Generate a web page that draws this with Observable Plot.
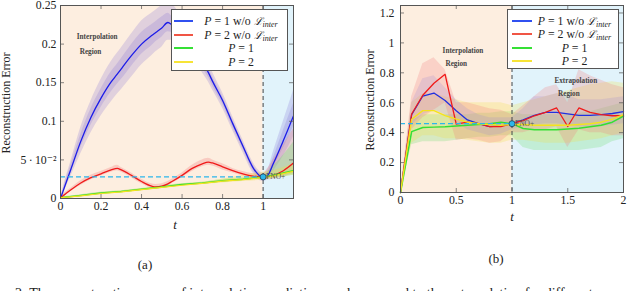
<!DOCTYPE html>
<html><head><meta charset="utf-8">
<script src="https://cdn.jsdelivr.net/npm/d3@7"></script>
<script src="https://cdn.jsdelivr.net/npm/@observablehq/plot@0.6"></script>
<style>
html,body{margin:0;padding:0;background:#fff;width:640px;height:291px;overflow:hidden;}
#root{position:relative;width:640px;height:291px;font-family:"Liberation Serif","DejaVu Serif",serif;color:#222;}
.ov{position:absolute;white-space:nowrap;}
.legend{position:absolute;border:1px solid #555;background:#fff;box-sizing:border-box;z-index:3;}
.entry{position:absolute;height:14px;margin-top:-7px;font-size:11.8px;line-height:14px;text-align:center;white-space:nowrap;}
.swatch{position:absolute;height:4px;margin-top:-2px;}
sub{font-size:8px;vertical-align:-2px;line-height:0;}
.scr{font-family:"DejaVu Serif",serif;font-style:italic;font-size:10.5px;}
</style></head>
<body><div id="root"></div>
<script>
// ---------------- Panel (a) data ----------------
const tA = [0,0.02,0.05,0.1,0.15,0.2,0.25,0.28,0.3,0.35,0.4,0.45,0.47,0.5,0.53,0.55,0.6,0.65,0.7,0.73,0.75,0.8,0.85,0.9,0.95,0.98,1.0,1.02,1.05,1.1,1.15];
const blueA = [0,0.015,0.037,0.074,0.105,0.13,0.151,0.161,0.168,0.185,0.2,0.211,0.215,0.221,0.228,0.225,0.214,0.198,0.176,0.163,0.152,0.127,0.097,0.068,0.04,0.03,0.027,0.029,0.045,0.075,0.107];
const blueOutLoA = [0,0.011,0.028,0.058,0.085,0.107,0.125,0.135,0.141,0.157,0.173,0.185,0.19,0.196,0.205,0.205,0.197,0.183,0.163,0.151,0.141,0.117,0.088,0.06,0.033,0.024,0.022,0.024,0.035,0.055,0.08];
const blueOutHiA = [0,0.021,0.047,0.092,0.126,0.154,0.177,0.188,0.195,0.213,0.23,0.24,0.244,0.25,0.255,0.252,0.235,0.215,0.19,0.176,0.164,0.137,0.106,0.076,0.047,0.036,0.033,0.036,0.06,0.1,0.14];
const blueInLoA = [0,0.013,0.032,0.066,0.095,0.118,0.138,0.148,0.154,0.171,0.187,0.198,0.203,0.209,0.216,0.215,0.205,0.19,0.169,0.157,0.146,0.122,0.092,0.064,0.036,0.027,0.024,0.026,0.04,0.065,0.093];
const blueInHiA = [0,0.018,0.042,0.083,0.116,0.142,0.164,0.174,0.181,0.199,0.215,0.225,0.229,0.235,0.24,0.236,0.223,0.206,0.183,0.169,0.158,0.132,0.102,0.072,0.044,0.033,0.03,0.032,0.052,0.088,0.123];
const redA = [0.001,0.005,0.011,0.02,0.027,0.032,0.037,0.039,0.037,0.03,0.022,0.016,0.015,0.016,0.019,0.022,0.03,0.039,0.045,0.047,0.046,0.041,0.036,0.032,0.029,0.028,0.027,0.028,0.03,0.036,0.046];
const redLoA = [0,0.003,0.009,0.017,0.024,0.029,0.034,0.036,0.034,0.027,0.019,0.013,0.012,0.013,0.016,0.019,0.027,0.035,0.041,0.043,0.042,0.037,0.033,0.029,0.026,0.025,0.024,0.024,0.025,0.028,0.032];
const redHiA = [0.002,0.007,0.013,0.023,0.03,0.035,0.04,0.043,0.04,0.033,0.025,0.019,0.018,0.019,0.022,0.025,0.033,0.043,0.05,0.052,0.05,0.045,0.039,0.035,0.032,0.031,0.032,0.038,0.05,0.07,0.09];
const tLinA = [0,0.1,0.2,0.3,0.4,0.5,0.6,0.7,0.8,0.9,1.0,1.05,1.1,1.15];
const greenA = [0.001,0.004,0.007,0.009,0.012,0.015,0.018,0.02,0.023,0.025,0.028,0.03,0.033,0.036];
const greenLoA = [0,0.003,0.006,0.008,0.011,0.014,0.017,0.019,0.021,0.023,0.025,0.026,0.028,0.03];
const greenHiA = [0.002,0.005,0.008,0.01,0.013,0.016,0.019,0.021,0.025,0.027,0.03,0.042,0.056,0.073];
const yellowA = [0.001,0.0035,0.0065,0.0085,0.0115,0.0145,0.0172,0.0195,0.0225,0.0245,0.0272,0.0293,0.0322,0.0352];
const yellowLoA = [0,0.003,0.005,0.007,0.01,0.013,0.016,0.018,0.02,0.022,0.024,0.026,0.028,0.03];
const yellowHiA = [0.002,0.004,0.008,0.01,0.013,0.016,0.019,0.021,0.025,0.03,0.034,0.036,0.04,0.045];
const xTicksA = [0,0.2,0.4,0.6,0.8,1];
const xTickLabelsA = ["0","0.2","0.4","0.6","0.8","1"];
const yTicksA = [0,0.05,0.1,0.15,0.2,0.25];
const yTickLabelsA = ["0","5\u2009·\u200910\u207B\u00B2","0.1","0.15","0.2","0.25"];
const regionStartA = [0,1];
const regionEndA = [1,1.15];
const fnoA = 0.028;
const noteTA = [0.181,0.148], noteVA = [0.21,0.19], noteTextA = ["Interpolation","Region"];

// ---------------- Panel (b) data ----------------
const tB = [0,0.1,0.2,0.3,0.4,0.5,0.6,0.7,0.8,0.9,1.0,1.1,1.2,1.3,1.4,1.5,1.6,1.7,1.8,1.9,2.0];
const blueB = [0,0.52,0.645,0.665,0.615,0.547,0.485,0.46,0.44,0.445,0.46,0.485,0.515,0.535,0.536,0.525,0.515,0.515,0.52,0.528,0.54];
const blueLoB = [0,0.45,0.52,0.55,0.52,0.47,0.42,0.4,0.38,0.39,0.42,0.44,0.45,0.46,0.46,0.45,0.44,0.44,0.44,0.45,0.46];
const blueHiB = [0,0.6,0.76,0.78,0.7,0.62,0.56,0.52,0.5,0.5,0.5,0.56,0.64,0.64,0.66,0.65,0.62,0.62,0.62,0.63,0.64];
const redB = [0,0.525,0.65,0.73,0.79,0.457,0.47,0.46,0.44,0.44,0.462,0.48,0.513,0.536,0.565,0.441,0.565,0.536,0.52,0.513,0.513];
const redLoB = [0,0.42,0.5,0.55,0.6,0.35,0.36,0.35,0.33,0.34,0.4,0.4,0.42,0.42,0.44,0.3,0.42,0.4,0.4,0.38,0.38];
const redHiB = [0,0.64,0.86,0.9,0.82,0.6,0.6,0.58,0.56,0.55,0.52,0.58,0.64,0.7,0.72,0.6,0.82,0.78,0.75,0.72,0.7];
const greenB = [0,0.407,0.435,0.437,0.44,0.445,0.45,0.455,0.46,0.47,0.46,0.428,0.42,0.42,0.42,0.425,0.43,0.44,0.45,0.47,0.51];
const greenLoB = [0,0.32,0.34,0.34,0.34,0.35,0.36,0.37,0.37,0.38,0.38,0.3,0.28,0.28,0.28,0.28,0.28,0.29,0.3,0.34,0.36];
const greenHiB = [0,0.48,0.52,0.52,0.52,0.52,0.52,0.53,0.53,0.54,0.54,0.52,0.52,0.52,0.52,0.52,0.53,0.54,0.56,0.58,0.6];
const yellowB = [0,0.49,0.547,0.547,0.514,0.49,0.47,0.46,0.455,0.45,0.455,0.455,0.45,0.45,0.45,0.45,0.455,0.46,0.47,0.49,0.52];
const yellowLoB = [0,0.33,0.38,0.38,0.36,0.36,0.35,0.34,0.33,0.33,0.35,0.35,0.34,0.33,0.33,0.33,0.34,0.35,0.36,0.38,0.4];
const yellowHiB = [0,0.6,0.66,0.66,0.64,0.62,0.6,0.6,0.6,0.6,0.58,0.6,0.62,0.64,0.66,0.68,0.7,0.72,0.73,0.74,0.73];
const xTicksB = [0,0.5,1,1.5,2];
const xTickLabelsB = ["0","0.5","1","1.5","2"];
const yTicksB = [0,0.2,0.4,0.6,0.8,1,1.2];
const yTickLabelsB = ["0","0.2","0.4","0.6","0.8","1","1.2"];
const regionStartB = [0,1];
const regionEndB = [1,2];
const fnoB = 0.46;
const noteTB = [0.56,0.50,1.572,1.51], noteVB = [0.948,0.86,0.747,0.658], noteTextB = ["Interpolation","Region","Extrapolation","Region"];

const legendLabels = [
  "<i>P</i> = 1 w/o <span class='scr'>ℒ</span><sub><i>inter</i></sub>",
  "<i>P</i> = 2 w/o <span class='scr'>ℒ</span><sub><i>inter</i></sub>",
  "<i>P</i> = 1",
  "<i>P</i> = 2"
];

// ---------------- colours ----------------
const C = {blue:"#1c1ce8", red:"#f01a1a", green:"#33e033", yellow:"#f4e31c", cyan:"#2cb6ea",
  peach:"#fdeee0", sky:"#e1f3fb", bandBlue:"#7d6ad2", bandRed:"#f27a7a", bandGreen:"#66dd66", bandYellow:"#f2e040"};
const legendColors = ["#3050f0","#f05545","#35e035","#f7e436"];

function rows(ts, cols){ return ts.map((t,i)=>{const o={t}; for (const k in cols) o[k]=cols[k][i]; return o;}); }

function panel(cfg){
  const innerW = cfg.width - cfg.ml - cfg.mr, innerH = cfg.height - cfg.mt - cfg.mb;
  const regions = cfg.rs.map((s,i)=>({s, e: cfg.re[i]}));
  const tickStroke = "#555";
  return Plot.plot({
    width: cfg.width, height: cfg.height,
    marginLeft: cfg.ml, marginRight: cfg.mr, marginTop: cfg.mt, marginBottom: cfg.mb,
    x: {domain: cfg.xd}, y: {domain: cfg.yd},
    style: {fontFamily: '"Liberation Serif","DejaVu Serif",serif', fontSize: "11.8px", background: "transparent", color: "#222"},
    marks: [
      Plot.rect(regions, {x1: "s", x2: "e", fill: (d,i)=> i===0 ? C.peach : C.sky}),
      ...cfg.marks,
      Plot.ruleX([cfg.rs[1]], {stroke: "#444", strokeWidth: 1, strokeDasharray: "4,3"}),
      Plot.ruleY([cfg.fno], {x1: cfg.rs[0], x2: cfg.rs[1], stroke: C.cyan, strokeWidth: 1.3, strokeDasharray: "5,3"}),
      Plot.dot([{t: cfg.rs[1], v: cfg.fno}], {x: "t", y: "v", r: 3, fill: C.cyan, stroke: "#20405a", strokeWidth: 0.8}),
      Plot.text([{t: cfg.rs[1], v: cfg.fno}], {x: "t", y: "v", text: ()=>"FNO+", dx: 3, textAnchor: "start", fontSize: 7.5, fill: "#555"}),
      Plot.text(cfg.noteText.map((s,i)=>({s, t: cfg.noteT[i], v: cfg.noteV[i]})), {x: "t", y: "v", text: "s", fontSize: 7.2, fontWeight: "bold", fill: "#444"}),
      Plot.frame({stroke: "#555", strokeWidth: 1}),
      Plot.tickX(cfg.xt, {x: d=>d, insetTop: innerH - 4, stroke: tickStroke, strokeWidth: 0.7}),
      Plot.tickX(cfg.xt, {x: d=>d, insetBottom: innerH - 4, stroke: tickStroke, strokeWidth: 0.7}),
      Plot.tickY(cfg.yt, {y: d=>d, insetRight: innerW - 4, stroke: tickStroke, strokeWidth: 0.7}),
      Plot.tickY(cfg.yt, {y: d=>d, insetLeft: innerW - 4, stroke: tickStroke, strokeWidth: 0.7}),
      Plot.axisX(cfg.xt, {tickSize: 0, tickPadding: 3, label: null, tickFormat: d => cfg.xl[cfg.xt.indexOf(d)]}),
      Plot.axisY(cfg.yt, {tickSize: 0, tickPadding: cfg.yp, label: null, tickFormat: d => cfg.yl[cfg.yt.indexOf(d)]})
    ]
  });
}

const dA = rows(tA, {blue: blueA, bol: blueOutLoA, boh: blueOutHiA, bil: blueInLoA, bih: blueInHiA, red: redA, rl: redLoA, rh: redHiA});
const dL = rows(tLinA, {green: greenA, gl: greenLoA, gh: greenHiA, yellow: yellowA, yl: yellowLoA, yh: yellowHiA});
const dB = rows(tB, {blue: blueB, bl: blueLoB, bh: blueHiB, red: redB, rl: redLoB, rh: redHiB, green: greenB, gl: greenLoB, gh: greenHiB, yellow: yellowB, yl: yellowLoB, yh: yellowHiB});

const sm = "monotone-x";
const svgA = panel({
  width: 320, height: 240, ml: 60, mr: 27, mt: 5, mb: 42,
  xd: [0, 1.15], yd: [0, 0.25], xt: xTicksA, xl: xTickLabelsA, yt: yTicksA, yl: yTickLabelsA, yp: 4,
  rs: [regionStartA[0], regionEndA[0]], re: regionEndA, fno: fnoA,
  noteT: noteTA, noteV: noteVA, noteText: noteTextA,
  marks: [
    Plot.areaY(dA, {x: "t", y1: "bol", y2: "boh", fill: C.bandBlue, fillOpacity: 0.22, curve: sm, clip: true}),
    Plot.areaY(dA, {x: "t", y1: "bil", y2: "bih", fill: C.bandBlue, fillOpacity: 0.22, curve: sm, clip: true}),
    Plot.areaY(dA, {x: "t", y1: "rl", y2: "rh", fill: C.bandRed, fillOpacity: 0.3, curve: sm, clip: true}),
    Plot.areaY(dL, {x: "t", y1: "gl", y2: "gh", fill: C.bandGreen, fillOpacity: 0.3, curve: sm, clip: true}),
    Plot.areaY(dL, {x: "t", y1: "yl", y2: "yh", fill: C.bandYellow, fillOpacity: 0.3, curve: sm, clip: true}),
    Plot.lineY(dA, {x: "t", y: "blue", stroke: C.blue, strokeWidth: 1.3, curve: sm, clip: true}),
    Plot.lineY(dA, {x: "t", y: "red", stroke: C.red, strokeWidth: 1.3, curve: sm, clip: true}),
    Plot.lineY(dL, {x: "t", y: "green", stroke: C.green, strokeWidth: 1.5, clip: true}),
    Plot.lineY(dL, {x: "t", y: "yellow", stroke: C.yellow, strokeWidth: 1.2, clip: true})
  ]
});
const svgB = panel({
  width: 320, height: 240, ml: 80, mr: 17, mt: 5, mb: 48,
  xd: [0, 2], yd: [0, 1.25], xt: xTicksB, xl: xTickLabelsB, yt: yTicksB, yl: yTickLabelsB, yp: 6,
  rs: [regionStartB[0], regionEndB[0]], re: regionEndB, fno: fnoB,
  noteT: noteTB, noteV: noteVB, noteText: noteTextB,
  marks: [
    Plot.areaY(dB, {x: "t", y1: "gl", y2: "gh", fill: C.bandGreen, fillOpacity: 0.25, clip: true}),
    Plot.areaY(dB, {x: "t", y1: "yl", y2: "yh", fill: C.bandYellow, fillOpacity: 0.25, clip: true}),
    Plot.areaY(dB, {x: "t", y1: "bl", y2: "bh", fill: "#7f8cf0", fillOpacity: 0.22, clip: true}),
    Plot.areaY(dB, {x: "t", y1: "rl", y2: "rh", fill: C.bandRed, fillOpacity: 0.25, clip: true}),
    Plot.lineY(dB, {x: "t", y: "blue", stroke: "#2030e0", strokeWidth: 1.3}),
    Plot.lineY(dB, {x: "t", y: "red", stroke: C.red, strokeWidth: 1.3}),
    Plot.lineY(dB, {x: "t", y: "green", stroke: C.green, strokeWidth: 1.5}),
    Plot.lineY(dB, {x: "t", y: "yellow", stroke: C.yellow, strokeWidth: 1.4})
  ]
});

const root = document.getElementById("root");
for (const [svg, left] of [[svgA, 0], [svgB, 320]]) {
  svg.style.position = "absolute"; svg.style.left = left + "px"; svg.style.top = "0px";
  svg.style.maxWidth = "none"; svg.style.background = "transparent";
  root.appendChild(svg);
}

function ov(html, x, y, style){
  const d = document.createElement("div"); d.className = "ov"; d.innerHTML = html;
  d.style.left = x + "px"; d.style.top = y + "px";
  d.style.transform = "translate(-50%,-50%)" + (style.rot ? " rotate(-90deg)" : "");
  d.style.fontSize = style.size + "px"; if (style.italic) d.style.fontStyle = "italic";
  root.appendChild(d); return d;
}
ov("Reconstruction Error", 6, 103, {size: 12, rot: true});
ov("Reconstruction Error", 370, 100, {size: 12, rot: true});
ov("t", 175, 225, {size: 13, italic: true});
ov("t", 512, 217, {size: 13, italic: true});
ov("(a)", 145, 265, {size: 13});
ov("(b)", 496, 259, {size: 13});

function legend(x, y, w, h, rowY, swX1, swX2, colX1, colX2){
  const L = document.createElement("div"); L.className = "legend";
  Object.assign(L.style, {left: x+"px", top: y+"px", width: w+"px", height: h+"px"});
  legendLabels.forEach((lab, i) => {
    const s = document.createElementNS("http://www.w3.org/2000/svg", "svg");
    s.setAttribute("class", "swatch"); s.setAttribute("width", swX2 - swX1); s.setAttribute("height", 4);
    Object.assign(s.style, {left: swX1+"px", top: rowY[i]+"px"});
    s.innerHTML = `<line x1="0" x2="${swX2-swX1}" y1="2" y2="2" stroke="${legendColors[i]}" stroke-width="2"/>`;
    L.appendChild(s);
    const e = document.createElement("div"); e.className = "entry"; e.innerHTML = lab;
    Object.assign(e.style, {left: colX1+"px", width: (colX2-colX1)+"px", top: rowY[i]+"px"});
    L.appendChild(e);
  });
  root.appendChild(L);
}
legend(171, 9, 117, 62, [10.5, 24.5, 38.3, 52.3], 2, 21, 24, 114);
legend(507, 9, 112, 60, [10.5, 23.9, 37.6, 51.3], 4, 24, 24, 109);

const cap = document.createElement("div");
cap.className = "ov";
Object.assign(cap.style, {left: "15px", top: "286px", fontSize: "14px", lineHeight: "16px"});
cap.textContent = "2: The reconstruction errors of interpolation predictions and compared to the extrapolation for different";
root.appendChild(cap);
</script>
</body></html>
